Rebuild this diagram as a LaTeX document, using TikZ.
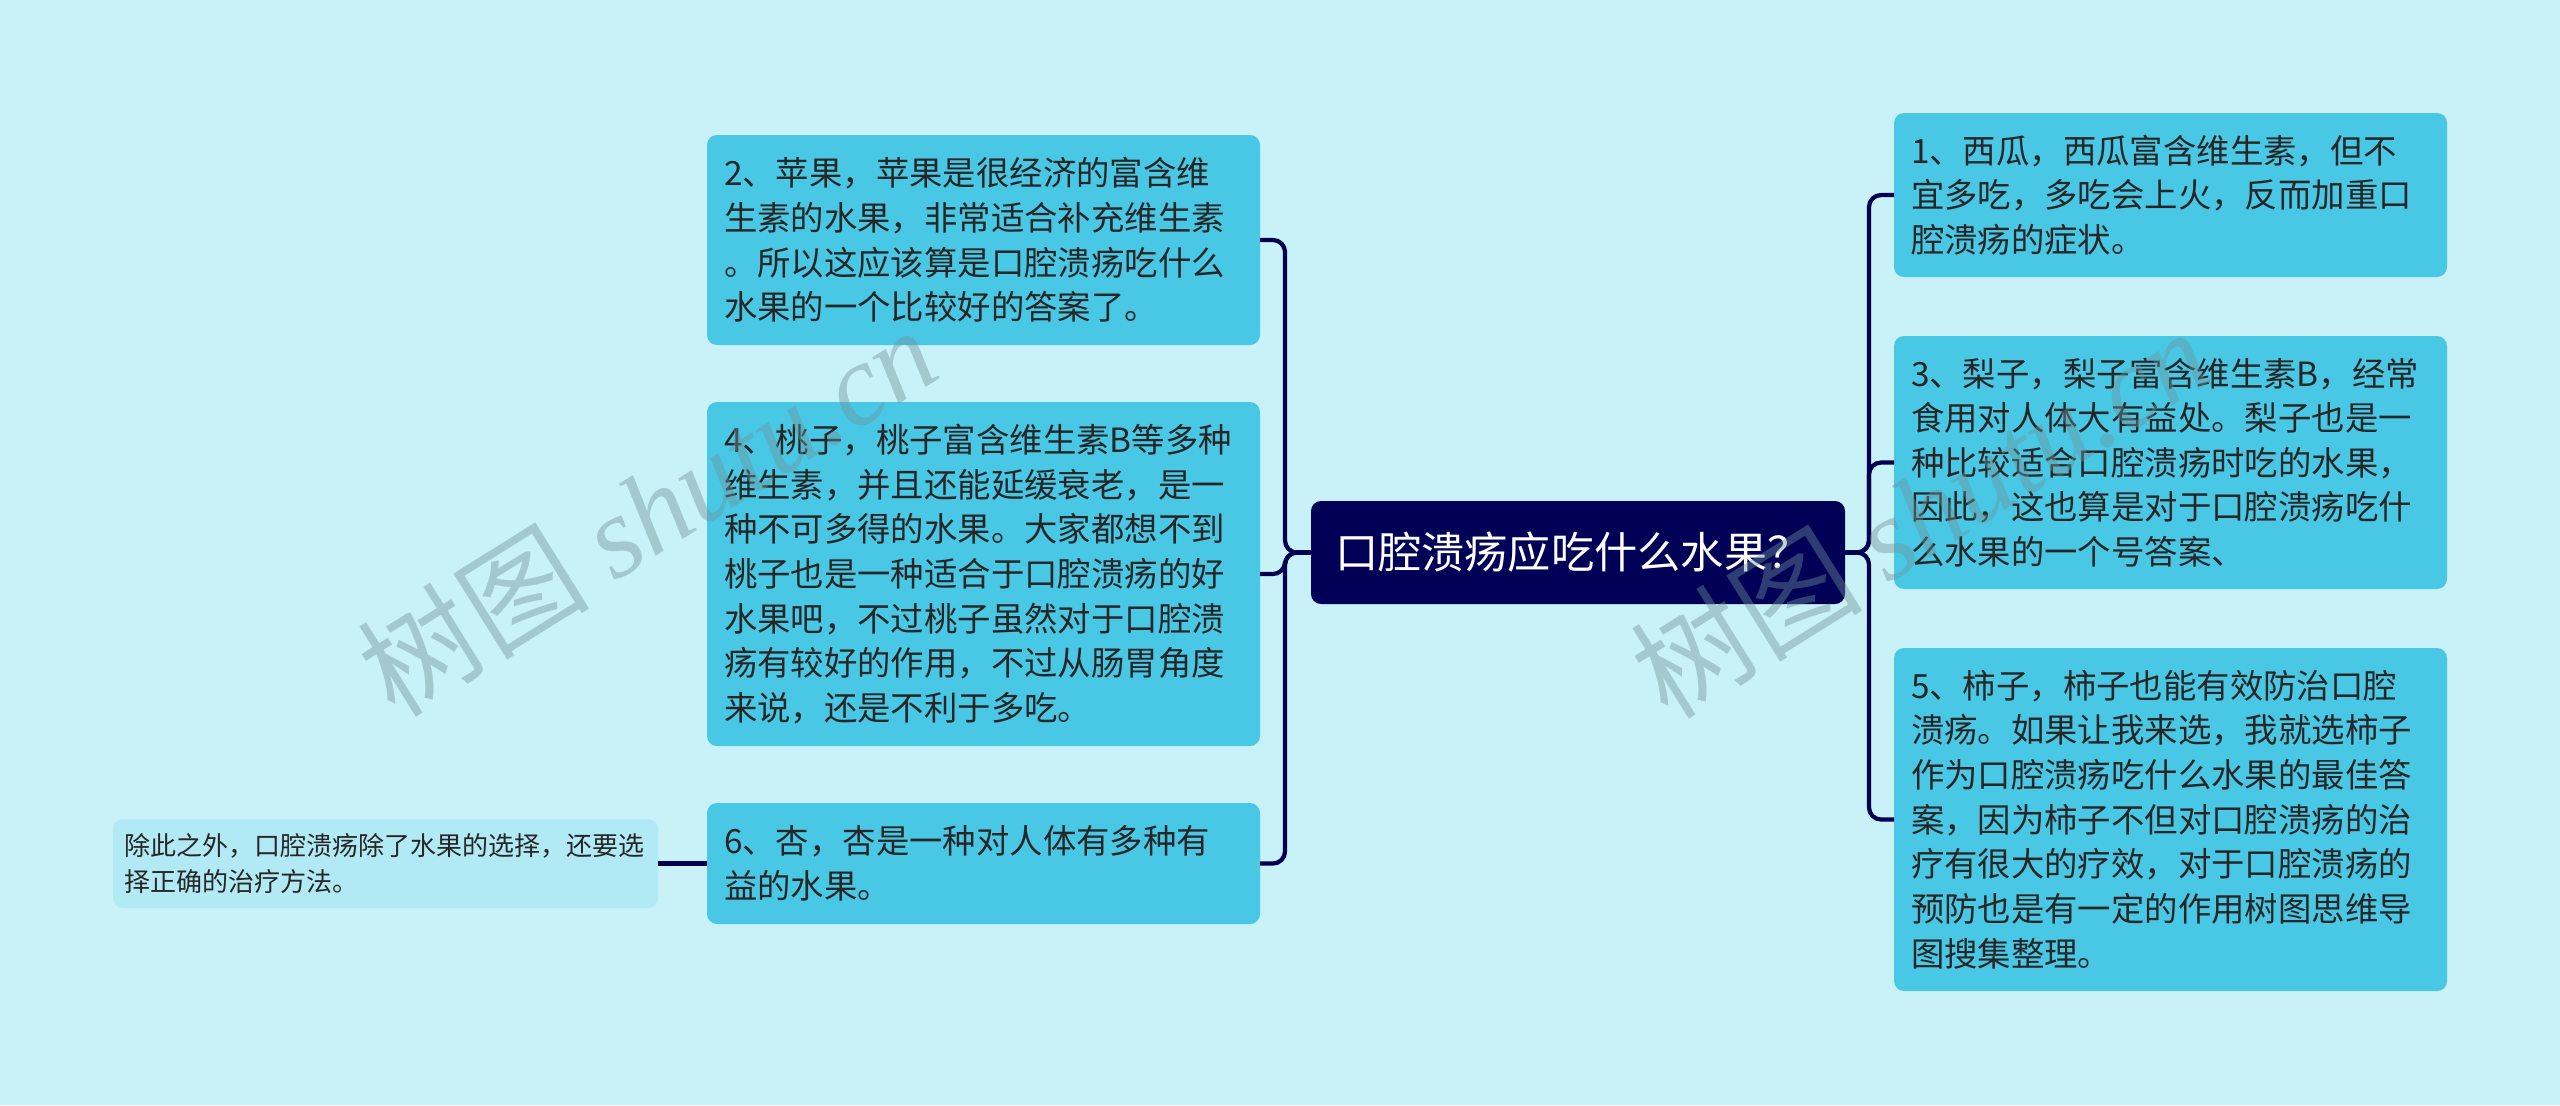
\documentclass[tikz,border=0pt]{standalone}
\usepackage{fontspec}
\setmainfont{Noto Sans CJK SC}
\newfontfamily\wmfont{Liberation Serif}
\usepackage{tikz}
\usetikzlibrary{positioning}

\definecolor{bgcolor}{HTML}{C9F1F8}
\definecolor{leafcolor}{HTML}{48C8E4}
\definecolor{notecolor}{HTML}{B1EAF5}
\definecolor{rootcolor}{HTML}{000057}
\definecolor{linecolor}{HTML}{000050}
\definecolor{textcolor}{HTML}{262626}
\definecolor{wmcolor}{HTML}{6F9298}

\begin{document}
\begin{tikzpicture} [auto, line width=1.2pt,
    leaf node/.style={rectangle, rounded corners=0.1cm, fill=leafcolor, anchor=north west,
        text=textcolor, align=left, text width=5.19cm, inner xsep=0.17cm, inner ysep=0pt, outer sep=0pt,
        minimum width=5.53cm, font=\fontsize{9.5pt}{12.7pt}\selectfont},
    root node/.style={rectangle, rounded corners=0.1cm, fill=rootcolor, anchor=north west,
        text=white, align=left, text width=4.86cm, inner xsep=0.24cm, inner ysep=0pt, outer sep=0pt,
        minimum width=5.34cm, minimum height=1.03cm, font=\fontsize{12.3pt}{14pt}\selectfont},
    note node/.style={rectangle, rounded corners=0.1cm, fill=notecolor,
        text=textcolor, align=left, text width=5.23cm, inner xsep=0.11cm, inner ysep=0pt, outer sep=0pt,
        minimum width=5.45cm, minimum height=0.89cm, font=\fontsize{7.4pt}{10pt}\selectfont},
    link/.style={draw=linecolor, rounded corners=0.12cm},
    watermark/.style={text=wmcolor, opacity=0.42, rotate=32, font=\fontsize{33pt}{35pt}\selectfont}]

    % background and page size
    \fill[bgcolor] (0,0) rectangle (25.6,-11.05);

    \node[root node] (0) at (13.11,-5.01) {口腔溃疡应吃什么水果？};

    % left side
    \node[leaf node, minimum height=2.10cm] (2) at (7.07,-1.35)
        {2、苹果，苹果是很经济的富含维\\生素的水果，非常适合补充维生素\\。所以这应该算是口腔溃疡吃什么\\水果的一个比较好的答案了。};
    \node[leaf node, minimum height=3.44cm, below=0.57cm of 2] (4)
        {4、桃子，桃子富含维生素B等多种\\维生素，并且还能延缓衰老，是一\\种不可多得的水果。大家都想不到\\桃子也是一种适合于口腔溃疡的好\\水果吧，不过桃子虽然对于口腔溃\\疡有较好的作用，不过从肠胃角度\\来说，还是不利于多吃。};
    \node[leaf node, minimum height=1.21cm, below=0.57cm of 4] (6)
        {6、杏，杏是一种对人体有多种有\\益的水果。};
    \node[note node, left=0.49cm of 6] (7)
        {除此之外，口腔溃疡除了水果的选择，还要选\\择正确的治疗方法。};

    % right side
    \node[leaf node, minimum height=1.64cm] (1) at (18.94,-1.13)
        {1、西瓜，西瓜富含维生素，但不\\宜多吃，多吃会上火，反而加重口\\腔溃疡的症状。};
    \node[leaf node, minimum height=2.53cm, below=0.59cm of 1] (3)
        {3、梨子，梨子富含维生素B，经常\\食用对人体大有益处。梨子也是一\\种比较适合口腔溃疡时吃的水果，\\因此，这也算是对于口腔溃疡吃什\\么水果的一个号答案、};
    \node[leaf node, minimum height=3.43cm, below=0.59cm of 3] (5)
        {5、柿子，柿子也能有效防治口腔\\溃疡。如果让我来选，我就选柿子\\作为口腔溃疡吃什么水果的最佳答\\案，因为柿子不但对口腔溃疡的治\\疗有很大的疗效，对于口腔溃疡的\\预防也是有一定的作用树图思维导\\图搜集整理。};

    \draw[link] (0.west) -| ([xshift=0.25cm]2.east) -- (2.east);
    \draw[link] (0.west) -| ([xshift=0.25cm]4.east) -- (4.east);
    \draw[link] (0.west) -| ([xshift=0.25cm]6.east) -- (6.east);
    \draw[link] (0.east) -| ([xshift=-0.25cm]1.west) -- (1.west);
    \draw[link] (0.east) -| ([xshift=-0.25cm]3.west) -- (3.west);
    \draw[link] (0.east) -| ([xshift=-0.25cm]5.west) -- (5.west);
    \draw[link] (6.west) -- (7.east);

    % watermarks
    \node[watermark] (w1) at (6.47,-5.10) {树图 {\wmfont\itshape shutu.cn}};
    \node[watermark] (w2) at (19.2,-5.12) {树图 {\wmfont\itshape shutu.cn}};
\end{tikzpicture}
\end{document}
